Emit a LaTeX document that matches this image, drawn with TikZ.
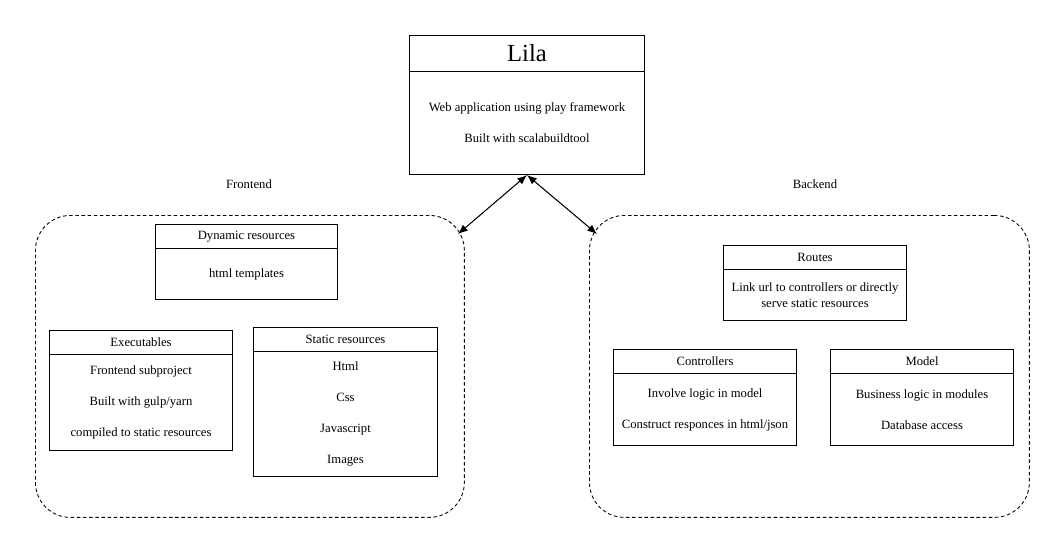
\documentclass[tikz,border=0pt]{standalone}
\usepackage{fontspec}
\setmainfont{Liberation Serif}
\usetikzlibrary{arrows.meta}
\begin{document}
\begin{tikzpicture}[x=0.02cm,y=-0.02cm,font=\fontsize{7.2}{8.5}\selectfont]
\tikzset{
  head/.style={draw, line width=0.6pt, minimum width=3.66cm, minimum height=0.48cm, inner sep=0pt, anchor=north west},
  body/.style={draw, line width=0.6pt, minimum width=3.66cm, inner sep=0pt, anchor=north west, align=center, font=\fontsize{7.2}{17.6}\selectfont},
  group/.style={draw, line width=0.5pt, dash pattern=on 2pt off 1.5pt, rounded corners=0.7cm, minimum height=6.04cm, inner sep=0pt, anchor=north west},
  link/.style={>={Latex[length=5.5pt,width=4.5pt]}, <->, line width=0.6pt}
}
\useasboundingbox (0,0) rectangle (1060,552);
% main application
\node[head, minimum width=4.7cm, minimum height=0.72cm, font=\fontsize{14}{16}\selectfont] (lila) at (409,35) {Lila};
\node[body, minimum width=4.7cm, minimum height=2.06cm] (lilabody) at (409,71) {Web application using play framework\\Built with scalabuildtool};
% groups
\node at (249,184) (frontlabel) {Frontend};
\node at (815,184) (backlabel) {Backend};
\node[group, minimum width=8.58cm] (front) at (35,215) {};
\node[group, minimum width=8.8cm] (back) at (589,215) {};
% frontend
\node[head, minimum width=3.64cm] (dyn) at (155,224) {Dynamic resources};
\node[body, minimum width=3.64cm, minimum height=1.02cm] (dynbody) at (155,248) {html templates};
\node[head] (exe) at (49,330) {Executables};
\node[body, minimum height=1.92cm] (exebody) at (49,354) {Frontend subproject\\Built with gulp/yarn\\compiled to static resources};
\node[head, minimum width=3.68cm] (stat) at (253,327) {Static resources};
\node[body, minimum width=3.68cm, minimum height=2.5cm] (statbody) at (253,351) {Html\\Css\\Javascript\\Images};
% backend
\node[head] (routes) at (723,245) {Routes};
\node[body, minimum height=1.02cm, font=\fontsize{7.2}{9}\selectfont] (routesbody) at (723,269) {Link url to controllers or directly\\serve static resources};
\node[head] (ctrl) at (613,349) {Controllers};
\node[body, minimum height=1.44cm] (ctrlbody) at (613,373) {Involve logic in model\\Construct responces in html/json};
\node[head] (model) at (830,349) {Model};
\node[body, minimum height=1.44cm] (modelbody) at (830,373) {Business logic in modules\\Database access};
% connections
\coordinate (frontin) at (458,234);
\coordinate (backin) at (597,234);
\draw[link] (lilabody.south) -- (frontin);
\draw[link] (lilabody.south) -- (backin);
\end{tikzpicture}
\end{document}
